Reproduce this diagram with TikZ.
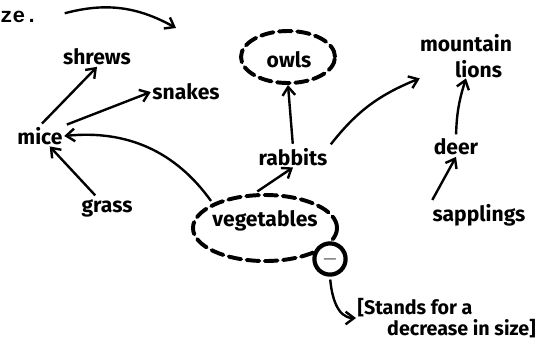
\documentclass[tikz,border=0pt]{standalone}
\usepackage{fontspec}
\setmainfont{Fira Sans}
\newfontfamily\typefont{Liberation Mono}
\usetikzlibrary{arrows, arrows.meta, shapes.geometric}
\tikzset{word/.style = {font = \bfseries\fontsize{15}{16}\selectfont, inner sep = 1pt}}
\tikzset{edge/.style = {-{Straight Barb[length=6pt, width=9pt]}, line width = 1.7pt, shorten <= 2pt}}
\tikzset{group/.style = {ellipse, draw, line width = 2.8pt, dash pattern = on 9pt off 4pt, line cap = round}}

\begin{document}
\begin{tikzpicture}[x = 0.025cm, y = -0.025cm]
				\useasboundingbox (0, 0) rectangle (559, 358);

				\node[word, font = \typefont\bfseries\fontsize{15}{15}\selectfont] (ze) at (19, 17) {ze.};
				\coordinate (fromze) at (62, 14);
				\coordinate (toze) at (176, 28);

				\node[word] (shrews) at (97, 57) {shrews};
				\node[word] (snakes) at (186, 92) {snakes};
				\node[word] (mice) at (40, 136) {mice};
				\node[word] (grass) at (107, 208) {grass};
				\node[word] (owls) at (289, 60) {owls};
				\node[group, minimum width = 2.35cm, minimum height = 1.3cm] (owlring) at (288, 57) {};
				\node[word] (rabbits) at (293, 157) {rabbits};
				\node[word, align = center, inner sep = 0pt] (lions) at (466, 56) {mountain\\[3pt]\hspace{1.2em}lions};
				\node[word] (deer) at (456, 147) {deer};
				\node[word] (veg) at (265, 221) {vegetables};
				\node[group, minimum width = 3.6cm, minimum height = 1.65cm] (vegring) at (265, 228) {};
				\node[word] (saplings) at (479, 215) {sapplings};
				\node[circle, draw, fill = white, line width = 3pt, minimum size = 0.78cm, inner sep = 0pt, font = \bfseries\Large] (minus) at (330, 259) {$-$};
				\node[word, font = \bfseries\fontsize{14}{15}\selectfont, align = left, anchor = west] (note) at (356, 318) {[Stands for a\\\hspace{1.5em}decrease in size]};

				\draw[edge] (fromze) to[bend left = 22] (toze);
				\draw[edge] (mice.north) to (shrews.south);
				\draw[edge] (mice.north east) to (snakes.west);
				\draw[edge] (grass) to (mice);
				\draw[edge] (vegring.north west) to[bend right = 30] (mice.east);
				\draw[edge] (vegring.north) ++(-10, 0) to (rabbits.south);
				\draw[edge] (rabbits.north) to (owlring.south);
				\draw[edge] (rabbits.north east) to[bend left = 15] (lions.south west);
				\draw[edge] (deer.north) to[bend left = 8] (lions.south);
				\draw[edge] (saplings.north west) to (deer.south);
				\draw[edge] (minus.south) to[out = -85, in = 180] (note.west);
			\end{tikzpicture}
\end{document}
